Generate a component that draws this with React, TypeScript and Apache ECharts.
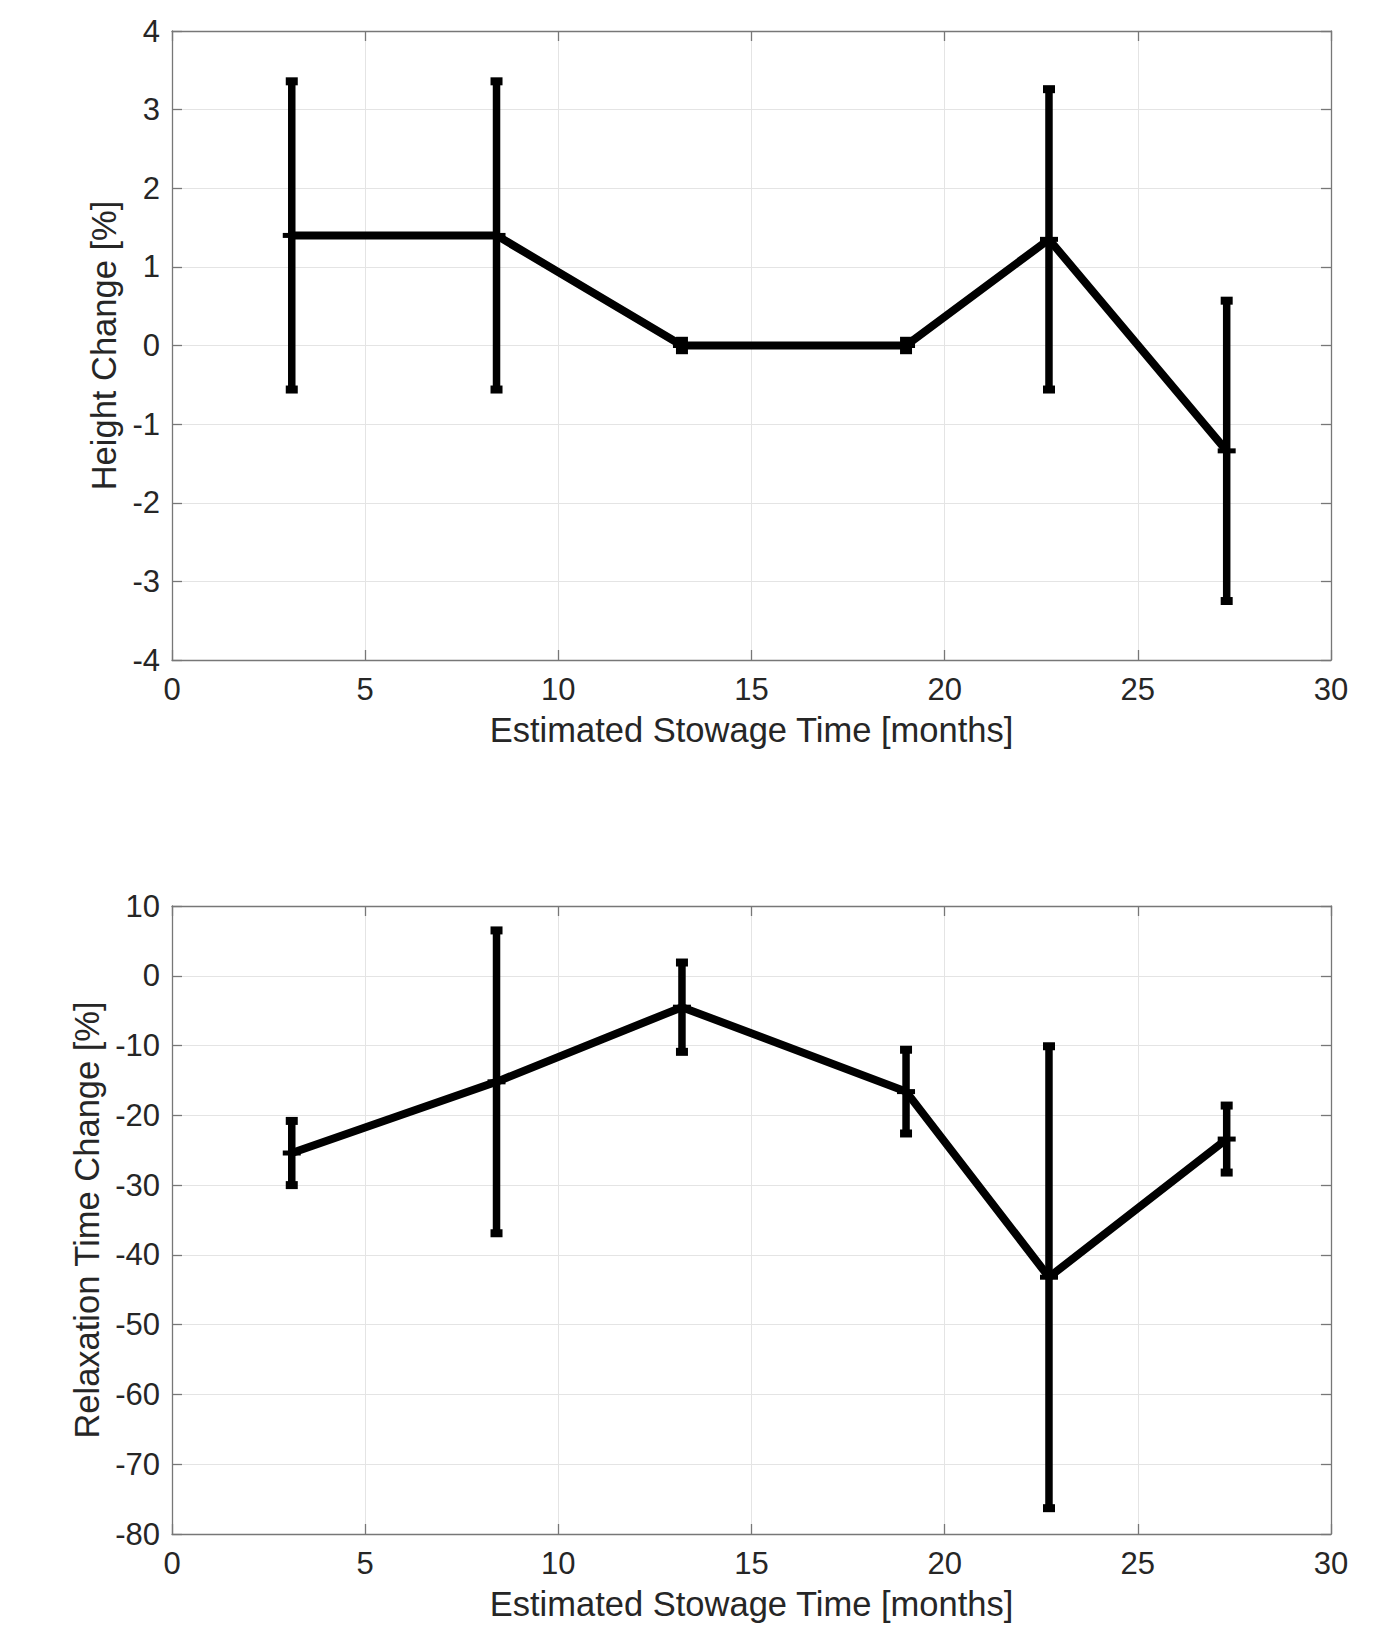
import React, { useEffect, useRef } from "react";
import * as echarts from "echarts";

const stowageMonths = [3.1, 8.4, 13.2, 19.0, 22.7, 27.3];
const heightChange = [1.4, 1.4, 0.0, 0.0, 1.35, -1.34];
const heightErr = [1.96, 1.96, 0.06, 0.06, 1.91, 1.91];
const relaxChange = [-25.4, -15.2, -4.5, -16.6, -43.2, -23.4];
const relaxErr = [4.6, 21.7, 6.4, 6.0, 33.1, 4.8];

const xTitle = "Estimated Stowage Time [months]";
const yTitleTop = "Height Change [%]";
const yTitleBottom = "Relaxation Time Change [%]";

const FONT = "'Liberation Sans', Arial, Helvetica, sans-serif";
const TEXT = "#262626";
const AXIS = { color: "#777777", width: 1.3 };
const GRIDLINE = { color: "#e4e4e4", width: 1 };

function errRender(params: any, api: any) {
  const x = api.value(0);
  const lo = api.value(1);
  const hi = api.value(2);
  const y = api.value(3);
  const pHi = api.coord([x, hi]);
  const pLo = api.coord([x, lo]);
  const pC = api.coord([x, y]);
  const capW = 12;
  const capH = 8;
  const markW = 18;
  const markH = 5;
  return {
    type: "group",
    children: [
      {
        type: "line",
        shape: { x1: pHi[0], y1: pHi[1], x2: pLo[0], y2: pLo[1] },
        style: { stroke: "#000", lineWidth: 7.5 },
      },
      {
        type: "rect",
        shape: { x: pHi[0] - capW / 2, y: pHi[1] - capH / 2, width: capW, height: capH },
        style: { fill: "#000" },
      },
      {
        type: "rect",
        shape: { x: pLo[0] - capW / 2, y: pLo[1] - capH / 2, width: capW, height: capH },
        style: { fill: "#000" },
      },
      {
        type: "rect",
        shape: { x: pC[0] - markW / 2, y: pC[1] - markH / 2, width: markW, height: markH },
        style: { fill: "#000" },
      },
    ],
  };
}

function xAxes(gridIndex: number, gap: number) {
  const common = {
    type: "value",
    gridIndex,
    min: 0,
    max: 30,
    interval: 5,
    axisLine: { show: true, onZero: false, lineStyle: AXIS },
    axisTick: { show: true, inside: true, length: 10, lineStyle: AXIS },
  };
  return [
    {
      ...common,
      position: "bottom",
      axisLabel: { show: true, fontSize: 31, color: TEXT, margin: 14, fontFamily: FONT },
      splitLine: { show: true, lineStyle: GRIDLINE },
      name: xTitle,
      nameLocation: "middle",
      nameGap: gap,
      nameTextStyle: { fontSize: 34.5, color: TEXT, fontFamily: FONT },
    },
    {
      ...common,
      position: "top",
      axisLabel: { show: false },
      splitLine: { show: false },
    },
  ];
}

function yAxes(gridIndex: number, min: number, max: number, interval: number, name: string, gap: number) {
  const common = {
    type: "value",
    gridIndex,
    min,
    max,
    interval,
    axisLine: { show: true, onZero: false, lineStyle: AXIS },
    axisTick: { show: true, inside: true, length: 10, lineStyle: AXIS },
  };
  return [
    {
      ...common,
      position: "left",
      axisLabel: { show: true, fontSize: 31, color: TEXT, margin: 12, fontFamily: FONT },
      splitLine: { show: true, lineStyle: GRIDLINE },
      name,
      nameLocation: "middle",
      nameGap: gap,
      nameTextStyle: { fontSize: 34.5, color: TEXT, fontFamily: FONT },
    },
    {
      ...common,
      position: "right",
      axisLabel: { show: false },
      splitLine: { show: false },
    },
  ];
}

export default function App() {
  const ref = useRef<HTMLDivElement>(null);

  useEffect(() => {
    document.body.style.margin = "0";
    if (!ref.current) return;
    const chart = echarts.init(ref.current, undefined, { renderer: "svg" });

    const topLine = stowageMonths.map((x, i) => [x, heightChange[i]]);
    const topErr = stowageMonths.map((x, i) => [
      x,
      heightChange[i] - heightErr[i],
      heightChange[i] + heightErr[i],
      heightChange[i],
    ]);
    const botLine = stowageMonths.map((x, i) => [x, relaxChange[i]]);
    const botErr = stowageMonths.map((x, i) => [
      x,
      relaxChange[i] - relaxErr[i],
      relaxChange[i] + relaxErr[i],
      relaxChange[i],
    ]);

    const option: any = {
      animation: false,
      textStyle: { fontFamily: FONT },
      grid: [
        { left: 172, top: 31, width: 1159, height: 629, containLabel: false, outerBoundsMode: "none" },
        { left: 172, top: 906, width: 1159, height: 628, containLabel: false, outerBoundsMode: "none" },
      ],
      xAxis: [...xAxes(0, 52), ...xAxes(1, 52)],
      yAxis: [
        ...yAxes(0, -4, 4, 1, yTitleTop, 46),
        ...yAxes(1, -80, 10, 10, yTitleBottom, 63),
      ],
      series: [
        {
          type: "line",
          xAxisIndex: 0,
          yAxisIndex: 0,
          data: topLine,
          symbol: "none",
          lineStyle: { color: "#000", width: 8, join: "miter" },
          z: 3,
        },
        {
          type: "custom",
          xAxisIndex: 0,
          yAxisIndex: 0,
          data: topErr,
          encode: { x: 0, y: [1, 2, 3] },
          renderItem: errRender,
          z: 4,
        },
        {
          type: "line",
          xAxisIndex: 2,
          yAxisIndex: 2,
          data: botLine,
          symbol: "none",
          lineStyle: { color: "#000", width: 8, join: "miter" },
          z: 3,
        },
        {
          type: "custom",
          xAxisIndex: 2,
          yAxisIndex: 2,
          data: botErr,
          encode: { x: 0, y: [1, 2, 3] },
          renderItem: errRender,
          z: 4,
        },
      ],
    };

    chart.setOption(option);
    return () => {
      chart.dispose();
    };
  }, []);

  return <div ref={ref} style={{ width: 1378, height: 1640, background: "#fff" }} />;
}
